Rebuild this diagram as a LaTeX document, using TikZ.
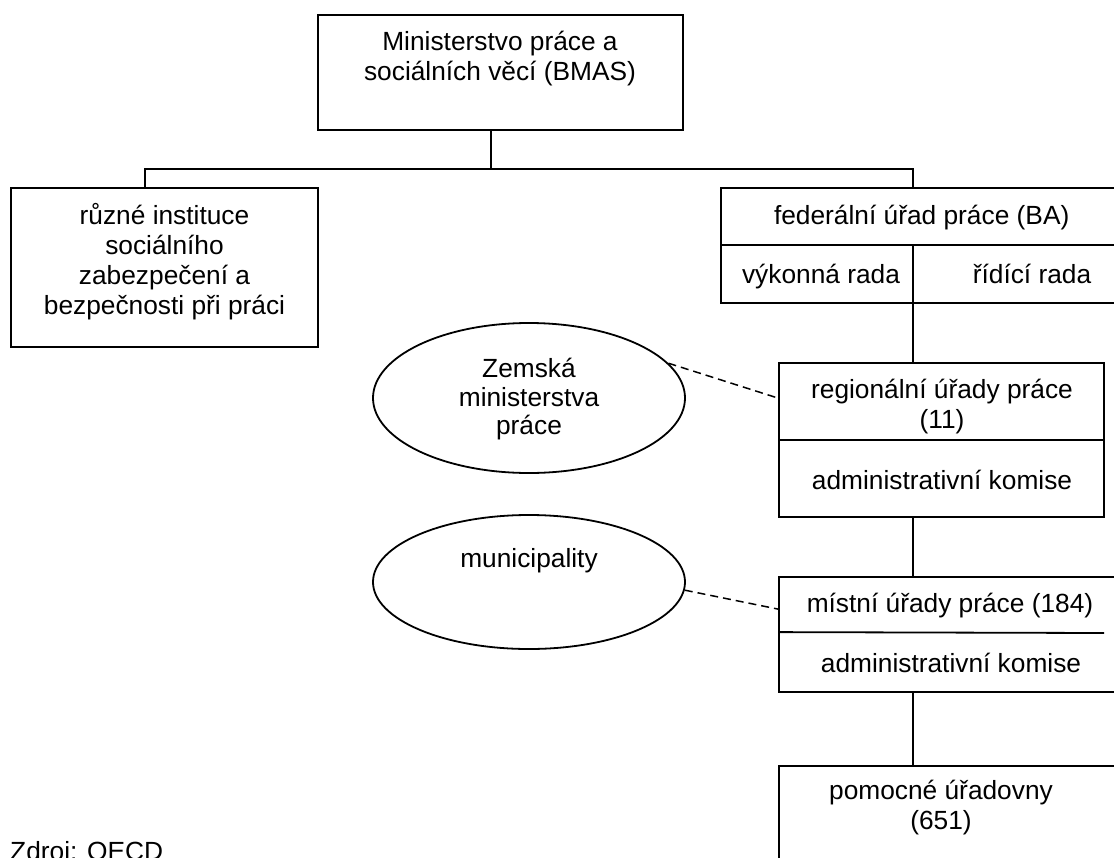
\documentclass[tikz,border=0pt]{standalone}
\usepackage{fontspec}
\setmainfont{Liberation Sans}
\usetikzlibrary{shapes.geometric}
\tikzset{
  ln/.style={line width=1.8pt, draw=black},
  boxnode/.style={ln, rectangle, inner sep=0pt, minimum width=#1},
  ovalnode/.style={ln, ellipse, inner sep=0pt, minimum width=312pt, minimum height=#1},
  txt/.style={font=\fontsize{26.3}{30}\selectfont, align=center, inner sep=0pt, anchor=north, execute at begin node=\strut},
  etxt/.style={font=\fontsize{26.3}{28.5}\selectfont, align=center, inner sep=0pt, anchor=north, execute at begin node=\strut},
  dashline/.style={line width=1.5pt, dash pattern=on 8pt off 5pt},
}
\begin{document}
\begin{tikzpicture}[x=1pt, y=-1pt]
\useasboundingbox (0,0) rectangle (1114,857);
\clip (0,0) rectangle (1114,857);
\fill[white] (0,0) rectangle (1114,857);

% boxes
\node[boxnode=365pt, minimum height=115pt] (top) at (500.5,72.5) {};
\node[boxnode=307pt, minimum height=159pt] (left) at (164.5,267.5) {};
\node[boxnode=404pt, minimum height=115pt] (fed) at (923,245.5) {};
\node[boxnode=325pt, minimum height=154pt] (reg) at (941.5,440) {};
\node[boxnode=346pt, minimum height=115pt] (loc) at (952,634.5) {};
\node[boxnode=346pt, minimum height=134pt] (pom) at (952,833) {};

% ellipses
\node[ovalnode=150pt] (e1) at (529,398) {};
\node[ovalnode=134pt] (e2) at (529,582) {};

% dividers inside boxes
\draw[ln] ([yshift=-58pt]fed.north west) -- ([yshift=-58pt]fed.north east);
\draw[ln] (913,246) -- (913,303);
\draw[ln] ([yshift=-78pt]reg.north west) -- ([yshift=-78pt]reg.north east);
\draw[ln] ([yshift=-56pt]loc.north west) -- (1104,633);

% connector coordinates
\coordinate (jt) at (490.7,169);
\coordinate (jl) at (145,169);
\coordinate (jr) at (913,169);

% connectors
\draw[ln] (top.south -| jt) -- (jt);
\draw[ln] (left.north -| jl) -- (jl) -- (jr) -- (fed.north -| jr);
\draw[ln] (fed.south -| jr) -- (reg.north -| jr);
\draw[ln] (reg.south -| jr) -- (loc.north -| jr);
\draw[ln] (loc.south -| jr) -- (pom.north -| jr);
\draw[dashline] (e1.14) -- ([yshift=-36pt]reg.north west);
\draw[dashline] (e2.-3.4) -- ([yshift=-33pt]loc.north west);

% texts
\node[txt] (ttop) at (500,31) {Ministerstvo práce a\\sociálních věcí (BMAS)};
\node[txt] (tleft) at (164.5,203) {různé instituce\\sociálního\\zabezpečení a\\bezpečnosti při práci};
\node[txt] (tfed) at (921.7,203) {federální úřad práce (BA)};
\node[txt] (tvyk) at (821,262) {výkonná rada};
\node[txt] (trid) at (1032,262) {řídící rada};
\node[txt] (treg) at (942,379) {regionální úřady práce\\(11)};
\node[txt] (tregk) at (942,468) {administrativní komise};
\node[txt] (tloc) at (950,591) {místní úřady práce (184)};
\node[txt] (tlock) at (951,651) {administrativní komise};
\node[txt] (tpom) at (941,780) {pomocné úřadovny\\(651)};
\node[etxt] (te1) at (529,358) {Zemská\\ministerstva\\práce};
\node[txt] (te2) at (529,546) {municipality};
\node[anchor=base west, inner sep=0pt, font=\fontsize{26.3}{30}\selectfont] (src) at (10,860) {Zdroj: OECD};
\end{tikzpicture}
\end{document}
